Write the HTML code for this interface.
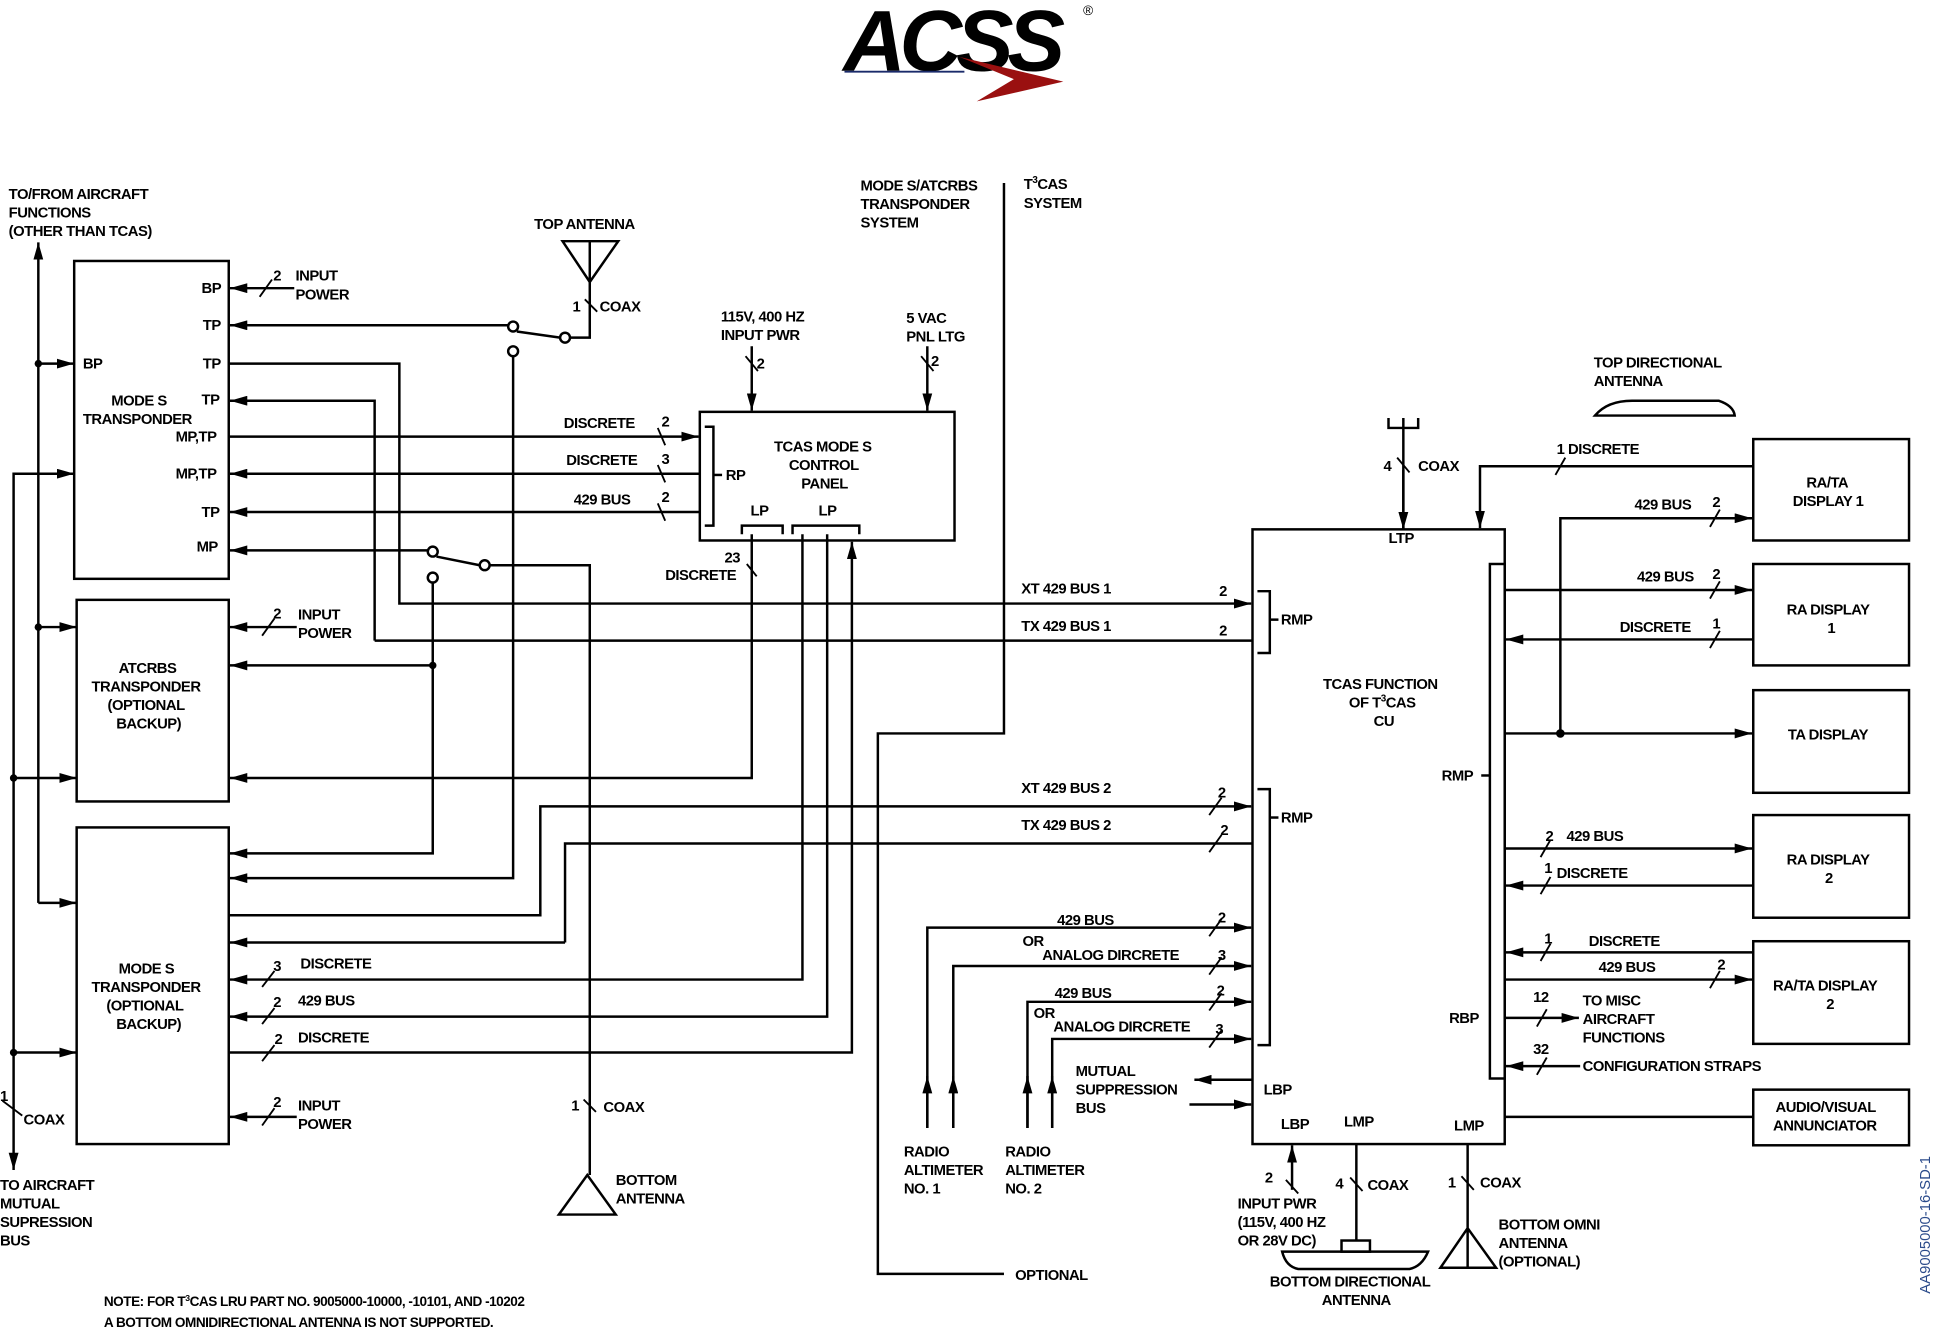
<!DOCTYPE html>
<html><head><meta charset="utf-8"><style>
html,body{margin:0;padding:0;background:#fff;}
svg{display:block;}
text{font-family:"Liberation Sans",sans-serif;font-weight:bold;font-size:12px;fill:#000;letter-spacing:-0.4px;}
</style></head><body>
<svg width="1935" height="1337" viewBox="0 0 1565 1081" preserveAspectRatio="none" xmlns="http://www.w3.org/2000/svg">
<defs>
<marker id="a" viewBox="0 0 14 8" refX="14" refY="4" markerWidth="14" markerHeight="8" markerUnits="userSpaceOnUse" orient="auto"><path d="M0,0L14,4L0,8z" fill="#000"/></marker>
</defs>
<!-- logo -->
<text x="682" y="57" style="font-size:70px;font-style:italic;font-weight:900;letter-spacing:-5px">ACSS</text>
<text x="876" y="12" style="font-size:11px;font-weight:normal">®</text>
<line x1="683" y1="58" x2="780" y2="58" stroke="#1a2a6a" stroke-width="1.5"/>
<path d="M776,46 L860,66 L790,82 L820,64 Z" fill="#9a1010"/>

<g fill="none" stroke="#000" stroke-width="2">
<rect x="60" y="211" width="125" height="257"/>
<rect x="62" y="485" width="123" height="163"/>
<rect x="62" y="669" width="123" height="256"/>
<rect x="566" y="333" width="206" height="104"/>
<rect x="1013" y="428" width="204" height="497"/>
<rect x="1418" y="355" width="126" height="82"/>
<rect x="1418" y="456" width="126" height="82"/>
<rect x="1418" y="558" width="126" height="83"/>
<rect x="1418" y="659" width="126" height="83"/>
<rect x="1418" y="761" width="126" height="83"/>
<rect x="1418" y="881" width="126" height="45"/>
<rect x="1205" y="456" width="12" height="416"/>
<path d="M570,345 H577 V425 H570"/>
<path d="M600,432 V425 H633 V432"/>
<path d="M641,432 V425 H695 V432"/>
<path d="M1017,478 H1027 V528 H1017"/>
<path d="M1017,638 H1027 V845 H1017"/>
<line x1="1027" y1="501" x2="1034" y2="501"/>
<line x1="1027" y1="661" x2="1034" y2="661"/>
<line x1="577" y1="384" x2="584" y2="384"/>
<line x1="1198" y1="627" x2="1205" y2="627"/>

<line x1="31" y1="730" x2="31" y2="196" marker-end="url(#a)"/>
<line x1="31" y1="294" x2="60" y2="294" marker-end="url(#a)"/>
<line x1="31" y1="507" x2="62" y2="507" marker-end="url(#a)"/>
<path d="M31,730 H62" marker-end="url(#a)"/>
<path d="M60,383 H11 V946" marker-end="url(#a)"/>
<line x1="40" y1="383" x2="60" y2="383" marker-end="url(#a)"/>
<line x1="11" y1="629" x2="62" y2="629" marker-end="url(#a)"/>
<line x1="11" y1="851" x2="62" y2="851" marker-end="url(#a)"/>
<line x1="2" y1="890" x2="18" y2="902" stroke-width="1.5"/>

<line x1="238" y1="233" x2="186" y2="233" marker-end="url(#a)"/>
<line x1="415" y1="263" x2="186" y2="263" marker-end="url(#a)"/>
<path d="M185,294 H323 V488 H1012" marker-end="url(#a)"/>
<path d="M303,518 V324 H186" marker-end="url(#a)"/>
<path d="M303,518 H1013"/>
<line x1="185" y1="353" x2="565" y2="353" marker-end="url(#a)"/>
<line x1="566" y1="383" x2="186" y2="383" marker-end="url(#a)"/>
<line x1="566" y1="414" x2="186" y2="414" marker-end="url(#a)"/>
<line x1="350" y1="445" x2="186" y2="445" marker-end="url(#a)"/>

<path d="M455,195 H500 L477,228 Z"/>
<path d="M477,195 V273 H461"/>
<line x1="418" y1="268" x2="453" y2="273"/>
<path d="M415,288 V710 H186" marker-end="url(#a)"/>
<line x1="353" y1="450" x2="388" y2="457"/>
<path d="M396,457 H477 V950"/>
<path d="M452,982 H498 L475,950 Z"/>
<path d="M350,471 V690 H186" marker-end="url(#a)"/>
<line x1="350" y1="538" x2="186" y2="538" marker-end="url(#a)"/>
<line x1="240" y1="507" x2="186" y2="507" marker-end="url(#a)"/>
<line x1="240" y1="903" x2="186" y2="903" marker-end="url(#a)"/>

<path d="M608,432 V629 H186" marker-end="url(#a)"/>
<path d="M649,432 V792 H186" marker-end="url(#a)"/>
<path d="M669,432 V822 H186" marker-end="url(#a)"/>
<path d="M185,851 H689 V438" marker-end="url(#a)"/>
<line x1="608" y1="280" x2="608" y2="332" marker-end="url(#a)"/>
<line x1="750" y1="280" x2="750" y2="332" marker-end="url(#a)"/>

<path d="M812,148 V593 H710 V1030 H812"/>

<path d="M185,740 H437 V652 H1012" marker-end="url(#a)"/>
<path d="M457,762 V682 H1013"/>
<line x1="457" y1="762" x2="186" y2="762" marker-end="url(#a)"/>

<path d="M750,912 V750 H1012" marker-end="url(#a)"/>
<path d="M771,912 V781 H1012" marker-end="url(#a)"/>
<path d="M831,912 V810 H1012" marker-end="url(#a)"/>
<path d="M851,912 V840 H1012" marker-end="url(#a)"/>
<line x1="750" y1="912" x2="750" y2="870" marker-end="url(#a)"/>
<line x1="771" y1="912" x2="771" y2="870" marker-end="url(#a)"/>
<line x1="831" y1="912" x2="831" y2="870" marker-end="url(#a)"/>
<line x1="851" y1="912" x2="851" y2="870" marker-end="url(#a)"/>
<line x1="1013" y1="873" x2="966" y2="873" marker-end="url(#a)"/>
<line x1="962" y1="893" x2="1012" y2="893" marker-end="url(#a)"/>

<path d="M1123,338 V346 H1147 V338 M1135,338 V428"/>
<line x1="1135" y1="380" x2="1135" y2="428" marker-end="url(#a)"/>
<path d="M1418,377 H1197 V427" marker-end="url(#a)"/>
<path d="M1290,336 Q1300,324 1320,324 H1390 Q1402,328 1403,336 Z"/>

<path d="M1262,593 V419 H1417" marker-end="url(#a)"/>
<line x1="1217" y1="593" x2="1417" y2="593" marker-end="url(#a)"/>
<line x1="1217" y1="477" x2="1417" y2="477" marker-end="url(#a)"/>
<line x1="1418" y1="517" x2="1218" y2="517" marker-end="url(#a)"/>
<line x1="1217" y1="686" x2="1417" y2="686" marker-end="url(#a)"/>
<line x1="1418" y1="716" x2="1218" y2="716" marker-end="url(#a)"/>
<line x1="1418" y1="770" x2="1218" y2="770" marker-end="url(#a)"/>
<line x1="1217" y1="792" x2="1417" y2="792" marker-end="url(#a)"/>
<line x1="1217" y1="823" x2="1277" y2="823" marker-end="url(#a)"/>
<line x1="1278" y1="862" x2="1218" y2="862" marker-end="url(#a)"/>
<line x1="1217" y1="903" x2="1418" y2="903"/>

<line x1="1045" y1="962" x2="1045" y2="926" marker-end="url(#a)"/>
<path d="M1097,925 V1003"/>
<rect x="1085" y="1003" width="23" height="9"/>
<path d="M1037,1012 H1155 Q1150,1024 1140,1026 H1050 Q1040,1024 1037,1012 Z"/>
<path d="M1187,925 V1025 M1165,1025 H1210 L1187,993 Z"/>
</g>

<g fill="#fff" stroke="#000" stroke-width="2">
<circle cx="415" cy="264" r="4"/><circle cx="457" cy="273" r="4"/><circle cx="415" cy="284" r="4"/>
<circle cx="350" cy="446" r="4"/><circle cx="392" cy="457" r="4"/><circle cx="350" cy="467" r="4"/>
</g>
<g fill="#000">
<circle cx="31" cy="294" r="3"/><circle cx="31" cy="507" r="3"/><circle cx="11" cy="629" r="3"/><circle cx="11" cy="851" r="3"/>
<circle cx="350" cy="538" r="3"/><circle cx="1262" cy="593" r="3.5"/>
</g>

<g stroke="#000" stroke-width="1.5">
<line x1="210" y1="240" x2="220" y2="226"/>
<line x1="532" y1="346" x2="538" y2="360"/>
<line x1="532" y1="376" x2="538" y2="390"/>
<line x1="532" y1="407" x2="538" y2="421"/>
<line x1="473" y1="242" x2="483" y2="252"/>
<line x1="603" y1="288" x2="613" y2="300"/>
<line x1="745" y1="288" x2="755" y2="300"/>
<line x1="604" y1="456" x2="612" y2="466"/>
<line x1="212" y1="514" x2="222" y2="500"/>
<line x1="212" y1="798" x2="222" y2="785"/>
<line x1="212" y1="828" x2="222" y2="815"/>
<line x1="212" y1="858" x2="222" y2="845"/>
<line x1="212" y1="910" x2="222" y2="896"/>
<line x1="472" y1="889" x2="482" y2="899"/>
<line x1="978" y1="659" x2="988" y2="645"/>
<line x1="978" y1="689" x2="988" y2="675"/>
<line x1="978" y1="757" x2="988" y2="743"/>
<line x1="978" y1="788" x2="988" y2="774"/>
<line x1="978" y1="817" x2="988" y2="803"/>
<line x1="978" y1="847" x2="988" y2="833"/>
<line x1="1130" y1="370" x2="1140" y2="382"/>
<line x1="1258" y1="384" x2="1266" y2="370"/>
<line x1="1383" y1="426" x2="1391" y2="412"/>
<line x1="1383" y1="484" x2="1391" y2="470"/>
<line x1="1383" y1="524" x2="1391" y2="510"/>
<line x1="1246" y1="693" x2="1254" y2="679"/>
<line x1="1246" y1="723" x2="1254" y2="709"/>
<line x1="1246" y1="777" x2="1254" y2="763"/>
<line x1="1383" y1="799" x2="1391" y2="785"/>
<line x1="1243" y1="830" x2="1251" y2="816"/>
<line x1="1243" y1="869" x2="1251" y2="855"/>
<line x1="1040" y1="954" x2="1050" y2="965"/>
<line x1="1092" y1="952" x2="1102" y2="963"/>
<line x1="1182" y1="951" x2="1192" y2="962"/>
</g>

<text x="7" y="161">TO/FROM AIRCRAFT</text>
<text x="7" y="176">FUNCTIONS</text>
<text x="7" y="191">(OTHER THAN TCAS)</text>
<text x="432" y="185">TOP ANTENNA</text>
<text x="463" y="252">1</text><text x="485" y="252">COAX</text>
<text x="163" y="237">BP</text>
<text x="221" y="227">2</text><text x="239" y="227">INPUT</text><text x="239" y="242">POWER</text>
<text x="164" y="267">TP</text>
<text x="67" y="298">BP</text><text x="164" y="298">TP</text>
<text x="90" y="328">MODE S</text><text x="163" y="327">TP</text>
<text x="67" y="343">TRANSPONDER</text>
<text x="142" y="357">MP,TP</text>
<text x="142" y="387">MP,TP</text>
<text x="163" y="418">TP</text>
<text x="159" y="446">MP</text>
<text x="456" y="346">DISCRETE</text><text x="535" y="345">2</text>
<text x="458" y="376">DISCRETE</text><text x="535" y="375">3</text>
<text x="464" y="408">429 BUS</text><text x="535" y="406">2</text>
<text x="583" y="260">115V, 400 HZ</text><text x="583" y="275">INPUT PWR</text>
<text x="612" y="298">2</text>
<text x="733" y="261">5 VAC</text><text x="733" y="276">PNL LTG</text>
<text x="753" y="296">2</text>
<text x="626" y="365">TCAS MODE S</text><text x="638" y="380">CONTROL</text><text x="648" y="395">PANEL</text>
<text x="587" y="388">RP</text>
<text x="607" y="417">LP</text><text x="662" y="417">LP</text>
<text x="586" y="455">23</text><text x="538" y="469">DISCRETE</text>
<text x="696" y="154">MODE S/ATCRBS</text><text x="696" y="169">TRANSPONDER</text><text x="696" y="184">SYSTEM</text>
<text x="828" y="153">T<tspan dy="-5" style="font-size:8px">3</tspan><tspan dy="5">CAS</tspan></text><text x="828" y="168">SYSTEM</text>
<text x="221" y="500">2</text><text x="241" y="501">INPUT</text><text x="241" y="516">POWER</text>
<text x="96" y="544">ATCRBS</text><text x="74" y="559">TRANSPONDER</text><text x="87" y="574">(OPTIONAL</text><text x="94" y="589">BACKUP)</text>
<text x="826" y="480">XT 429 BUS 1</text><text x="986" y="482">2</text>
<text x="826" y="510">TX 429 BUS 1</text><text x="986" y="514">2</text>
<text x="1036" y="505">RMP</text>
<text x="1070" y="557">TCAS FUNCTION</text>
<text x="1091" y="572">OF T<tspan dy="-5" style="font-size:8px">3</tspan><tspan dy="5">CAS</tspan></text>
<text x="1111" y="587">CU</text>
<text x="1166" y="631">RMP</text>
<text x="1123" y="439">LTP</text>
<text x="1119" y="381">4</text><text x="1147" y="381">COAX</text>
<text x="1289" y="297">TOP DIRECTIONAL</text><text x="1289" y="312">ANTENNA</text>
<text x="1259" y="367">1 DISCRETE</text>
<text x="1461" y="394">RA/TA</text><text x="1450" y="409">DISPLAY 1</text>
<text x="1322" y="412">429 BUS</text><text x="1385" y="410">2</text>
<text x="1324" y="470">429 BUS</text><text x="1385" y="468">2</text>
<text x="1310" y="511">DISCRETE</text><text x="1385" y="508">1</text>
<text x="1445" y="497">RA DISPLAY</text><text x="1478" y="512">1</text>
<text x="1446" y="598">TA DISPLAY</text>
<text x="826" y="641">XT 429 BUS 2</text><text x="985" y="645">2</text>
<text x="826" y="671">TX 429 BUS 2</text><text x="987" y="675">2</text>
<text x="1036" y="665">RMP</text>
<text x="96" y="787">MODE S</text><text x="74" y="802">TRANSPONDER</text><text x="86" y="817">(OPTIONAL</text><text x="94" y="832">BACKUP)</text>
<text x="221" y="785">3</text><text x="243" y="783">DISCRETE</text>
<text x="221" y="814">2</text><text x="241" y="813">429 BUS</text>
<text x="222" y="844">2</text><text x="241" y="843">DISCRETE</text>
<text x="221" y="895">2</text><text x="241" y="898">INPUT</text><text x="241" y="913">POWER</text>
<text x="0" y="890">1</text><text x="19" y="909">COAX</text>
<text x="0" y="962">TO AIRCRAFT</text><text x="0" y="977">MUTUAL</text><text x="0" y="992">SUPRESSION</text><text x="0" y="1007">BUS</text>
<text x="462" y="898">1</text><text x="488" y="899">COAX</text>
<text x="498" y="958">BOTTOM</text><text x="498" y="973">ANTENNA</text>
<text x="855" y="748">429 BUS</text><text x="985" y="746">2</text>
<text x="827" y="765">OR</text><text x="843" y="776">ANALOG DIRCRETE</text><text x="985" y="776">3</text>
<text x="853" y="807">429 BUS</text><text x="984" y="805">2</text>
<text x="836" y="823">OR</text><text x="852" y="834">ANALOG DIRCRETE</text><text x="983" y="836">3</text>
<text x="870" y="870">MUTUAL</text><text x="870" y="885">SUPPRESSION</text><text x="870" y="900">BUS</text>
<text x="731" y="935">RADIO</text><text x="731" y="950">ALTIMETER</text><text x="731" y="965">NO. 1</text>
<text x="813" y="935">RADIO</text><text x="813" y="950">ALTIMETER</text><text x="813" y="965">NO. 2</text>
<text x="1022" y="885">LBP</text>
<text x="1036" y="913">LBP</text><text x="1087" y="911">LMP</text><text x="1176" y="914">LMP</text>
<text x="1172" y="827">RBP</text>
<text x="1250" y="680">2</text><text x="1267" y="680">429 BUS</text>
<text x="1249" y="706">1</text><text x="1259" y="710">DISCRETE</text>
<text x="1445" y="699">RA DISPLAY</text><text x="1476" y="714">2</text>
<text x="1249" y="763">1</text><text x="1285" y="765">DISCRETE</text>
<text x="1293" y="786">429 BUS</text><text x="1389" y="784">2</text>
<text x="1434" y="801">RA/TA DISPLAY</text><text x="1477" y="816">2</text>
<text x="1240" y="810">12</text><text x="1280" y="813">TO MISC</text><text x="1280" y="828">AIRCRAFT</text><text x="1280" y="843">FUNCTIONS</text>
<text x="1240" y="852">32</text><text x="1280" y="866">CONFIGURATION STRAPS</text>
<text x="1436" y="899">AUDIO/VISUAL</text><text x="1434" y="914">ANNUNCIATOR</text>
<text x="1023" y="956">2</text><text x="1080" y="961">4</text><text x="1106" y="962">COAX</text>
<text x="1171" y="960">1</text><text x="1197" y="960">COAX</text>
<text x="1001" y="977">INPUT PWR</text><text x="1001" y="992">(115V, 400 HZ</text><text x="1001" y="1007">OR 28V DC)</text>
<text x="1212" y="994">BOTTOM OMNI</text><text x="1212" y="1009">ANTENNA</text><text x="1212" y="1024">(OPTIONAL)</text>
<text x="1027" y="1040">BOTTOM DIRECTIONAL</text><text x="1069" y="1055">ANTENNA</text>
<text x="821" y="1035">OPTIONAL</text>
<text x="84" y="1056" style="font-size:11px">NOTE: FOR T<tspan dy="-4" style="font-size:7px">3</tspan><tspan dy="4">CAS LRU PART NO. 9005000-10000, -10101, AND -10202</tspan></text>
<text x="84" y="1073" style="font-size:11px">A BOTTOM OMNIDIRECTIONAL ANTENNA IS NOT SUPPORTED.</text>
<text transform="translate(1561,1046) rotate(-90)" style="font-size:12px;font-weight:normal;fill:#2a4a8a;letter-spacing:0">AA9005000-16-SD-1</text>
</svg>
</body></html>
